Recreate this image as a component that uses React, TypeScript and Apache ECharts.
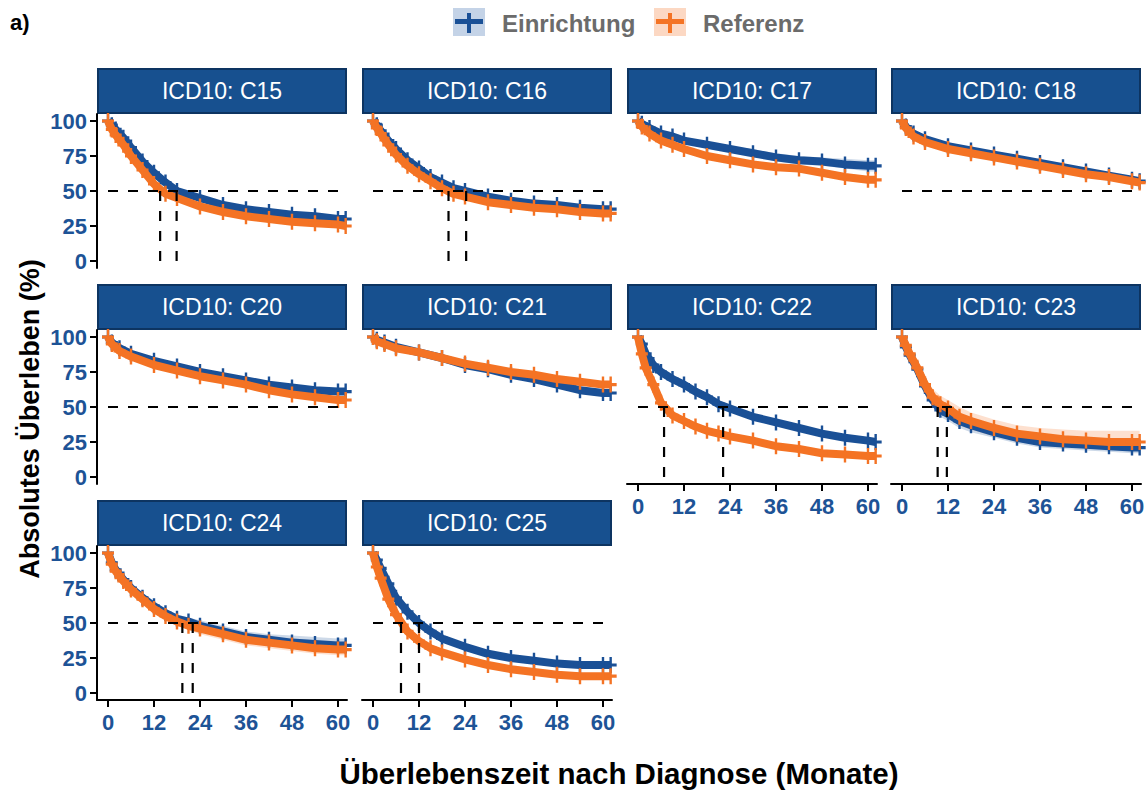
import React, { useEffect, useRef } from "react";
import * as echarts from "echarts";

// ---------------- data ----------------
const panels = ["C15", "C16", "C17", "C18", "C20", "C21", "C22", "C23", "C24", "C25"];
const groups = ["Einrichtung", "Referenz"];
const xTicks = [0, 12, 24, 36, 48, 60];
const yTicks = [0, 25, 50, 75, 100];

const c15Months = [0, 1, 2, 4, 6, 9, 12, 15, 18, 24, 30, 36, 42, 48, 54, 60, 62];
const c15Einrichtung = [100, 97, 94, 88, 81, 71, 63, 56, 50, 45, 40, 37, 35, 33, 32, 30, 30];
const c15Referenz = [100, 94, 90, 83, 75, 65, 55, 48, 45, 39, 35, 32, 30, 28, 27, 26, 25];

const c16Months = [0, 1, 2, 4, 6, 9, 12, 15, 18, 21, 24, 30, 36, 42, 48, 54, 60, 62];
const c16Einrichtung = [100, 97, 93, 86, 80, 72, 66, 60, 56, 52, 50, 46, 43, 41, 40, 38, 37, 37];
const c16Referenz = [100, 95, 91, 83, 76, 68, 62, 57, 52, 48, 46, 42, 40, 38, 37, 35, 34, 34];

const c17Months = [0, 1, 3, 6, 9, 12, 18, 24, 30, 36, 42, 48, 54, 60, 62];
const c17Einrichtung = [100, 98, 95, 91, 89, 86, 83, 80, 77, 74, 72, 71, 69, 68, 68];
const c17Referenz = [100, 96, 91, 86, 83, 80, 75, 72, 69, 67, 66, 63, 60, 58, 58];
const c17EinrichtungLo = [100, 97, 94, 89, 87, 84, 81, 78, 75, 71, 69, 68, 66, 64, 64];
const c17EinrichtungHi = [100, 99, 96, 93, 91, 88, 85, 82, 80, 77, 75, 74, 73, 72, 72];

const c18Months = [0, 1, 3, 6, 12, 18, 24, 30, 36, 42, 48, 54, 60, 62];
const c18Einrichtung = [100, 96, 91, 87, 82, 79, 76, 73, 70, 67, 64, 61, 58, 57];
const c18Referenz = [100, 95, 89, 85, 80, 77, 74, 71, 68, 65, 62, 60, 57, 56];

const c20Months = [0, 1, 3, 6, 12, 18, 24, 30, 36, 42, 48, 54, 60, 62];
const c20Einrichtung = [100, 96, 92, 88, 83, 79, 75, 72, 69, 66, 64, 62, 61, 61];
const c20Referenz = [100, 95, 90, 86, 80, 76, 72, 69, 66, 62, 59, 57, 55, 55];

const c21Months = [0, 1, 3, 6, 12, 18, 24, 30, 36, 42, 48, 54, 60, 62];
const c21Einrichtung = [100, 98, 96, 93, 89, 85, 80, 77, 73, 70, 66, 62, 60, 60];
const c21Referenz = [100, 97, 95, 92, 89, 85, 81, 78, 75, 73, 70, 68, 66, 66];

const c22Months = [0, 1, 2, 4, 6, 9, 12, 15, 18, 21, 24, 30, 36, 42, 48, 54, 60, 62];
const c22Einrichtung = [100, 95, 88, 80, 75, 70, 66, 61, 57, 52, 49, 43, 39, 35, 31, 28, 26, 25];
const c22Referenz = [100, 88, 78, 66, 53, 44, 40, 36, 33, 31, 29, 26, 22, 20, 17, 16, 15, 15];

const c23Months = [0, 1, 2, 4, 6, 8, 10, 12, 15, 18, 24, 30, 36, 42, 48, 54, 60, 62];
const c23Einrichtung = [100, 93, 87, 77, 65, 55, 48, 45, 40, 37, 32, 28, 25, 24, 23, 22, 21, 21];
const c23Referenz = [100, 94, 88, 78, 66, 57, 52, 49, 43, 40, 35, 31, 29, 27, 26, 25, 25, 25];
const c23EinrichtungLo = [100, 90, 83, 72, 60, 50, 43, 40, 35, 32, 28, 24, 21, 20, 19, 18, 17, 17];
const c23EinrichtungHi = [100, 96, 91, 82, 70, 60, 53, 50, 45, 42, 36, 32, 29, 28, 27, 26, 25, 25];
const c23ReferenzLo = [100, 91, 84, 73, 60, 51, 46, 43, 37, 34, 29, 26, 24, 22, 21, 20, 20, 20];
const c23ReferenzHi = [100, 97, 92, 83, 72, 63, 58, 55, 50, 46, 41, 37, 35, 34, 33, 33, 33, 33];

const c24Months = [0, 1, 2, 4, 6, 9, 12, 15, 18, 21, 24, 30, 36, 42, 48, 54, 60, 62];
const c24Einrichtung = [100, 93, 88, 81, 75, 68, 62, 57, 53, 51, 48, 44, 40, 38, 36, 35, 34, 34];
const c24Referenz = [100, 92, 87, 80, 74, 67, 60, 55, 51, 48, 46, 42, 38, 36, 34, 32, 31, 31];
const c24EinrichtungLo = [100, 90, 85, 78, 72, 65, 59, 54, 50, 48, 45, 40, 36, 34, 32, 31, 30, 30];
const c24EinrichtungHi = [100, 96, 91, 84, 78, 71, 65, 60, 56, 54, 52, 48, 44, 42, 41, 40, 39, 39];
const c24ReferenzLo = [100, 89, 84, 77, 71, 64, 57, 52, 48, 45, 42, 38, 34, 32, 30, 28, 27, 27];
const c24ReferenzHi = [100, 95, 90, 83, 77, 70, 63, 58, 54, 52, 50, 46, 42, 40, 38, 36, 35, 35];

const c25Months = [0, 1, 2, 4, 6, 9, 12, 15, 18, 24, 30, 36, 42, 48, 54, 60, 62];
const c25Einrichtung = [100, 95, 89, 78, 68, 58, 50, 44, 39, 33, 28, 25, 23, 21, 20, 20, 20];
const c25Referenz = [100, 90, 82, 67, 56, 44, 37, 32, 29, 24, 20, 17, 15, 13, 12, 12, 12];

const medianEinrichtung = [17.9, 24.3, null, null, null, null, 22.2, 9.3, 22.1, 12.0];
const medianReferenz = [13.6, 19.7, null, null, null, null, 6.8, 11.7, 19.4, 7.3];
const showHalfLine = [true, true, false, true, true, false, true, true, true, true];

// ---------------- styling ----------------
const BLUE = "#1A5096";
const ORANGE = "#F47324";
const BLUE_CI = "rgba(26,80,150,0.22)";
const ORANGE_CI = "rgba(244,115,36,0.22)";
const STRIP_FILL = "#17508F";
const STRIP_BORDER = "#0D3461";
const TICK_COLOR = "#1D5396";
const FONT = "'Liberation Sans', Arial, Helvetica, sans-serif";
const CROSS = "path://M4,0H6V4H10V6H6V10H4V6H0V4H4Z";

const COL_LEFT = [97, 362, 627, 891];
const ROW_TOP = [114, 330, 546];
const PW = 250;
const PH = 154;
const STRIP_H = 46;
const X_MIN = -2.87;
const X_MAX = 62.35;

type Panel = {
  t: number[];
  e: number[];
  r: number[];
  eLo?: number[];
  eHi?: number[];
  rLo?: number[];
  rHi?: number[];
};

const panelData: Panel[] = [
  { t: c15Months, e: c15Einrichtung, r: c15Referenz },
  { t: c16Months, e: c16Einrichtung, r: c16Referenz },
  { t: c17Months, e: c17Einrichtung, r: c17Referenz, eLo: c17EinrichtungLo, eHi: c17EinrichtungHi },
  { t: c18Months, e: c18Einrichtung, r: c18Referenz },
  { t: c20Months, e: c20Einrichtung, r: c20Referenz },
  { t: c21Months, e: c21Einrichtung, r: c21Referenz },
  { t: c22Months, e: c22Einrichtung, r: c22Referenz },
  {
    t: c23Months, e: c23Einrichtung, r: c23Referenz,
    eLo: c23EinrichtungLo, eHi: c23EinrichtungHi, rLo: c23ReferenzLo, rHi: c23ReferenzHi,
  },
  {
    t: c24Months, e: c24Einrichtung, r: c24Referenz,
    eLo: c24EinrichtungLo, eHi: c24EinrichtungHi, rLo: c24ReferenzLo, rHi: c24ReferenzHi,
  },
  { t: c25Months, e: c25Einrichtung, r: c25Referenz },
];

function zip(t: number[], v: number[]) {
  return t.map((x, i) => [x, v[i]]);
}

function buildOption() {
  const grid: any[] = [];
  const xAxis: any[] = [];
  const yAxis: any[] = [];
  const series: any[] = [];
  const graphic: any[] = [];

  panels.forEach((name, i) => {
    const col = i % 4;
    const row = Math.floor(i / 4);
    const left = COL_LEFT[col];
    const top = ROW_TOP[row];
    const isBottom = i >= 6;
    const isLeft = col === 0;

    grid.push({ left, top, width: PW, height: PH, containLabel: false, outerBoundsMode: "none" });

    xAxis.push({
      gridIndex: i,
      type: "value",
      min: X_MIN,
      max: X_MAX,
      show: isBottom,
      position: "bottom",
      axisLine: { show: true, onZero: false, lineStyle: { color: "#000", width: 2 } },
      axisTick: { show: true, customValues: xTicks, length: 7, lineStyle: { color: "#000", width: 2 } },
      axisLabel: {
        show: true,
        customValues: xTicks,
        color: TICK_COLOR,
        fontWeight: "bold",
        fontSize: 22,
        fontFamily: FONT,
        margin: 11,
      },
      splitLine: { show: false },
    });

    yAxis.push({
      gridIndex: i,
      type: "value",
      min: -5,
      max: 105,
      show: isLeft,
      axisLine: { show: true, onZero: false, lineStyle: { color: "#000", width: 2 } },
      axisTick: { show: true, customValues: yTicks, length: 7, lineStyle: { color: "#000", width: 2 } },
      axisLabel: {
        show: true,
        customValues: yTicks,
        color: TICK_COLOR,
        fontWeight: "bold",
        fontSize: 22,
        fontFamily: FONT,
        margin: 10,
      },
      splitLine: { show: false },
    });

    const p = panelData[i];
    const bands: [number[] | undefined, number[] | undefined, string][] = [
      [p.eLo, p.eHi, BLUE_CI],
      [p.rLo, p.rHi, ORANGE_CI],
    ];
    bands.forEach(([lo, hi, color]) => {
      if (!lo || !hi) return;
      const times = p.t;
      series.push({
        type: "custom",
        xAxisIndex: i,
        yAxisIndex: i,
        data: zip(times, hi),
        silent: true,
        z: 1,
        renderItem: (params: any, api: any) => {
          if (params.dataIndex !== 0) return null;
          const upper = times.map((x, k) => api.coord([x, hi[k]]));
          const lower = times.map((x, k) => api.coord([x, lo[k]])).reverse();
          return {
            type: "polygon",
            shape: { points: upper.concat(lower) },
            style: { fill: color, stroke: "none" },
          };
        },
      });
    });

    [
      [p.e, BLUE, groups[0]],
      [p.r, ORANGE, groups[1]],
    ].forEach(([vals, color, gname]: any, k) => {
      series.push({
        name: gname,
        type: "line",
        xAxisIndex: i,
        yAxisIndex: i,
        data: zip(p.t, vals),
        symbol: CROSS,
        symbolSize: [12, 16],
        showSymbol: true,
        showAllSymbol: true,
        lineStyle: { color, width: 8 },
        itemStyle: { color },
        z: 2 + k,
      });
    });

    const dash = { color: "#000", width: 2.2, type: [10, 10] };
    const seg = (pts: number[][]) => ({
      type: "line",
      xAxisIndex: i,
      yAxisIndex: i,
      data: pts,
      symbol: "none",
      lineStyle: dash,
      silent: true,
      z: 6,
    });
    if (showHalfLine[i]) series.push(seg([[0, 50], [X_MAX, 50]]));
    [medianEinrichtung[i], medianReferenz[i]].forEach((m) => {
      if (m != null) series.push(seg([[m, 0], [m, 50]]));
    });

    // strip
    graphic.push({
      type: "rect",
      shape: { x: left + 1, y: top - STRIP_H + 1, width: PW - 2, height: STRIP_H - 2 },
      style: { fill: STRIP_FILL, stroke: STRIP_BORDER, lineWidth: 2 },
      silent: true,
    });
    graphic.push({
      type: "text",
      x: left + PW / 2,
      y: top - STRIP_H / 2,
      style: {
        text: `ICD10: ${name}`,
        fill: "#FFFFFF",
        font: `23px ${FONT}`,
        textAlign: "center",
        textVerticalAlign: "middle",
      },
      silent: true,
    });
  });

  // legend
  const legendItems = [
    { x: 453, color: BLUE, bg: "#C4D3E7", text: groups[0] },
    { x: 654, color: ORANGE, bg: "#FCD8C3", text: groups[1] },
  ];
  legendItems.forEach((it) => {
    graphic.push({ type: "rect", shape: { x: it.x, y: 8, width: 32, height: 28 }, style: { fill: it.bg }, silent: true });
    graphic.push({ type: "rect", shape: { x: it.x + 2, y: 19, width: 28, height: 5 }, style: { fill: it.color }, silent: true });
    graphic.push({ type: "rect", shape: { x: it.x + 14, y: 13, width: 4, height: 20 }, style: { fill: it.color }, silent: true });
    graphic.push({
      type: "text",
      x: it.x + 49,
      y: 23,
      style: { text: it.text, fill: "#6B6B6B", font: `bold 24px ${FONT}`, textVerticalAlign: "middle" },
      silent: true,
    });
  });

  graphic.push({
    type: "text",
    x: 10,
    y: 22,
    style: { text: "a)", fill: "#000", font: `bold 22px ${FONT}`, textVerticalAlign: "middle" },
  });
  graphic.push({
    type: "text",
    x: 619,
    y: 773,
    style: {
      text: "Überlebenszeit nach Diagnose (Monate)",
      fill: "#000",
      font: `bold 29.5px ${FONT}`,
      textAlign: "center",
      textVerticalAlign: "middle",
    },
  });
  graphic.push({
    type: "text",
    x: 30,
    y: 419,
    rotation: Math.PI / 2,
    style: {
      text: "Absolutes Überleben (%)",
      fill: "#000",
      font: `bold 27px ${FONT}`,
      textAlign: "center",
      textVerticalAlign: "middle",
    },
  });

  return {
    animation: false,
    backgroundColor: "#FFFFFF",
    grid,
    xAxis,
    yAxis,
    series,
    graphic,
  };
}

export default function App() {
  const ref = useRef<HTMLDivElement>(null);
  useEffect(() => {
    if (!ref.current) return;
    const chart = echarts.init(ref.current, null, { renderer: "svg" });
    chart.setOption(buildOption() as any);
    return () => chart.dispose();
  }, []);
  return (
    <div
      ref={ref}
      style={{ position: "fixed", left: 0, top: 0, width: 1148, height: 792, background: "#fff" }}
    />
  );
}
